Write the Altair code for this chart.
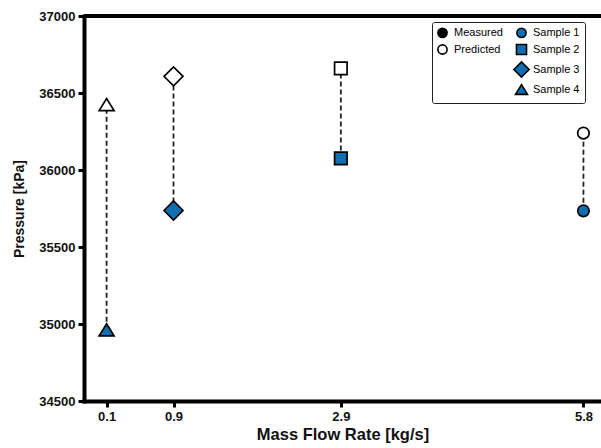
import altair as alt
import pandas as pd

# ---- data ----
flow = [5.8, 2.9, 0.9, 0.1]                      # kg/s
samples = ["Sample 1", "Sample 2", "Sample 3", "Sample 4"]
pred_keys = ["P1", "P2", "P3", "P4"]
measured = [35735, 36075, 35737, 34962]         # kPa
predicted = [36240, 36660, 36608, 36425]        # kPa
x_ticks = [0.1, 0.9, 2.9, 5.8]
y_ticks = [34500, 35000, 35500, 36000, 36500, 37000]
top_value = [37000]

BLUE = "#0e6fb3"
SQUARE = "M-1.09,-1.09L1.09,-1.09L1.09,1.09L-1.09,1.09Z"
DIAMOND = "M-1.65,0L0,-1.65L1.65,0L0,1.65Z"
TRIANGLE = "M0,-1.05L1.3,1.05L-1.3,1.05Z"

# legend entries fill column by column: left column first, then right column
legend_values = ["Measured", "Predicted", " ", "  ", "Sample 1", "Sample 2", "Sample 3", "Sample 4"]
domain = legend_values + pred_keys
shape_range = ["circle", "circle", "circle", "circle", "circle", SQUARE, DIAMOND, TRIANGLE,
               "circle", SQUARE, DIAMOND, TRIANGLE]
fill_range = ["black", "white", "transparent", "transparent", BLUE, BLUE, BLUE, BLUE,
              "white", "white", "white", "white"]
stroke_range = ["black", "black", "transparent", "transparent", "black", "black", "black", "black",
                "black", "black", "black", "black"]

pts = pd.DataFrame(
    [{"flow": f, "pressure": m, "key": s} for f, m, s in zip(flow, measured, samples)]
    + [{"flow": f, "pressure": p, "key": k} for f, p, k in zip(flow, predicted, pred_keys)]
)
links = pd.DataFrame({"flow": flow, "measured": measured, "predicted": predicted})
top = pd.DataFrame({"y": top_value})

xscale = alt.Scale(domain=[-0.17, 6.01], nice=False, zero=False)
yscale = alt.Scale(domain=[34500, 37000], nice=False, zero=False)

xaxis = alt.Axis(values=x_ticks, format=".1f", title="Mass Flow Rate [kg/s]", grid=False,
                 titleFontSize=16.5)
yaxis = alt.Axis(values=y_ticks, format="d", title="Pressure [kPa]", grid=False,
                 titleFontSize=14)

leg = alt.Legend(
    title=None, values=legend_values, columns=2, orient="none",
    legendX=348, legendY=6, padding=5, strokeColor="#222", fillColor="white",
    cornerRadius=2, rowPadding=0, columnPadding=7, labelOffset=6,
    labelFont="Liberation Sans", labelFontSize=11, labelColor="black",
    symbolSize=85, symbolStrokeWidth=1.6,
)

base = alt.Chart(pts)

dashes = alt.Chart(links).mark_rule(
    strokeDash=[5, 3], strokeWidth=1.8, color="#222"
).encode(
    x=alt.X("flow:Q", scale=xscale, axis=xaxis),
    y=alt.Y("measured:Q", scale=yscale, axis=yaxis),
    y2="predicted:Q",
)

top_rule = alt.Chart(top).mark_rule(strokeWidth=4, color="black").encode(
    y=alt.Y("y:Q", scale=yscale, axis=yaxis)
)

points = base.mark_point(filled=True, size=132, strokeWidth=1.7, opacity=1).encode(
    x=alt.X("flow:Q", scale=xscale, axis=xaxis),
    y=alt.Y("pressure:Q", scale=yscale, axis=yaxis),
    fill=alt.Fill("key:N", scale=alt.Scale(domain=domain, range=fill_range), legend=leg),
    stroke=alt.Stroke("key:N", scale=alt.Scale(domain=domain, range=stroke_range), legend=leg),
    shape=alt.Shape("key:N", scale=alt.Scale(domain=domain, range=shape_range), legend=leg),
)

chart = alt.layer(dashes, top_rule, points).properties(
    width=517, height=385,
    padding={"left": 84, "top": 16, "right": 0, "bottom": 47},
    autosize=alt.AutoSizeParams(type="none"),
).configure_view(
    stroke=None
).configure_axis(
    domainColor="black", domainWidth=4, domainCap="square",
    tickColor="black", tickWidth=3, tickSize=6,
    labelFont="Liberation Sans", labelFontSize=13, labelFontWeight="bold", labelColor="#111",
    titleFont="Liberation Sans", titleFontWeight="bold", titleColor="#111",
    labelPadding=3,
).configure_axisX(
    titlePadding=3, labelFlush=False
).configure_axisY(
    titlePadding=12
)

chart.save("out.html", embed_options={"renderer": "svg", "actions": False})
